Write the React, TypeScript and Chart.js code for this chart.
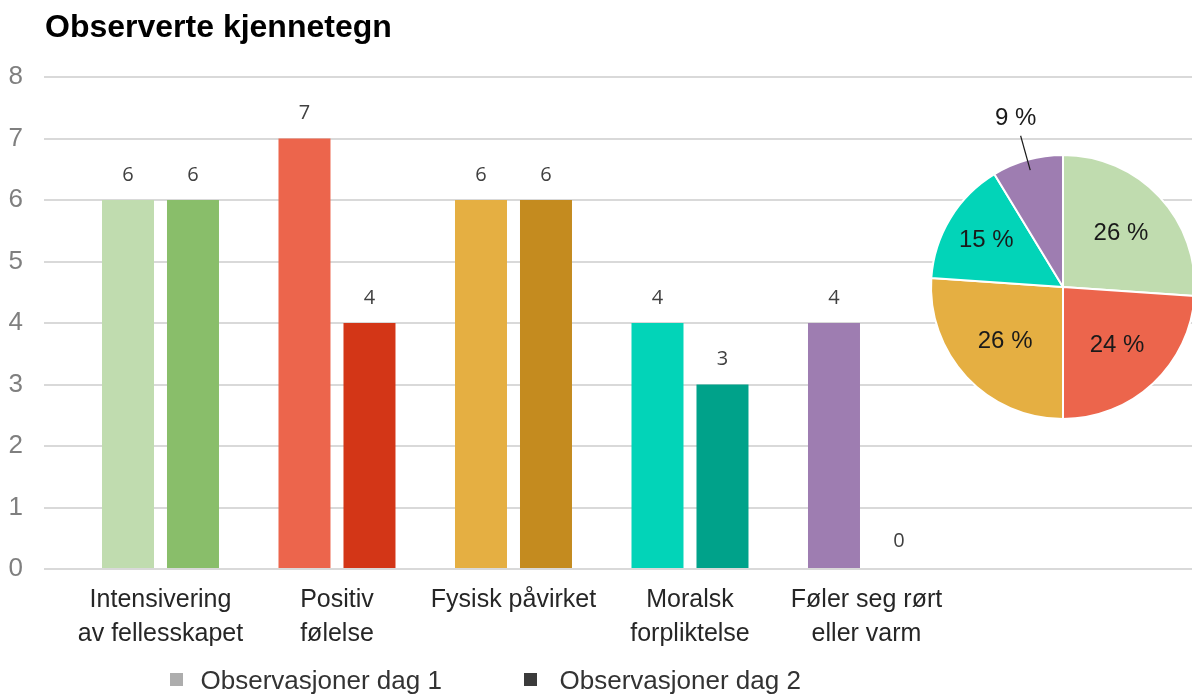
import React, { useEffect, useRef } from "react";
import { Chart, registerables } from "chart.js";

Chart.register(...registerables);

const titleText = "Observerte kjennetegn";
const categories: string[][] = [
  ["Intensivering", "av fellesskapet"],
  ["Positiv", "følelse"],
  ["Fysisk påvirket"],
  ["Moralsk", "forpliktelse"],
  ["Føler seg rørt", "eller varm"],
];
const seriesNames = ["Observasjoner dag 1", "Observasjoner dag 2"];
const day1 = [6, 7, 6, 4, 4];
const day2 = [6, 4, 6, 3, 0];
const day1Colors = ["#C0DCAF", "#EC654C", "#E5AF42", "#02D4B8", "#9E7DB1"];
const day2Colors = ["#89BE6A", "#D33617", "#C48B1F", "#00A28A", "#9E7DB1"];
const legendColors = ["#ADADAD", "#3B3B3B"];
const pieValues = [12, 11, 12, 7, 4];
const pieColors = ["#C0DCAF", "#EC654C", "#E5AF42", "#02D4B8", "#9E7DB1"];
const yMin = 0;
const yMax = 8;

const FAMILY = "'Liberation Sans', Arial, Helvetica, sans-serif";

export default function App() {
  const barRef = useRef<HTMLCanvasElement | null>(null);
  const pieRef = useRef<HTMLCanvasElement | null>(null);

  useEffect(() => {
    if (!barRef.current || !pieRef.current) return;

    const xMin = -0.66;
    const xMax = xMin + 1148 / 176.5;

    const overlay = {
      id: "overlay",
      afterDatasetsDraw(chart: any) {
        const ctx = chart.ctx;
        ctx.save();
        ctx.font = "20px 'Open Sans', sans-serif";
        ctx.fillStyle = "#404040";
        ctx.textAlign = "center";
        ctx.textBaseline = "middle";
        chart.data.datasets.forEach((ds: any, di: number) => {
          const meta = chart.getDatasetMeta(di);
          meta.data.forEach((el: any, j: number) => {
            const v = ds.data[j].y;
            const off = v === 0 ? 28 : 25;
            ctx.fillText(String(v), el.x, el.y - off);
          });
        });
        ctx.restore();
      },
      afterDraw(chart: any) {
        const ctx = chart.ctx;
        ctx.save();
        ctx.font = `bold 32px ${FAMILY}`;
        ctx.fillStyle = "#000000";
        ctx.textAlign = "left";
        ctx.textBaseline = "alphabetic";
        ctx.fillText(titleText, 45, 37);
        const boxX = [170, 524];
        const textX = [200.5, 559.5];
        ctx.font = `26px ${FAMILY}`;
        seriesNames.forEach((name, i) => {
          ctx.fillStyle = legendColors[i];
          ctx.fillRect(boxX[i], 673, 13, 13);
          ctx.fillStyle = "#333333";
          ctx.fillText(name, textX[i], 689);
        });
        ctx.restore();
      },
    };

    const bar = new Chart(barRef.current, {
      type: "bar",
      data: {
        datasets: seriesNames.map((name, s) => ({
          label: name,
          data: (s === 0 ? day1 : day2).map((v, i) => ({ x: i, y: v })),
          backgroundColor: s === 0 ? day1Colors : day2Colors,
          borderWidth: 0,
          categoryPercentage: 0.7365,
          barPercentage: 0.8,
        })),
      },
      options: {
        animation: false,
        responsive: false,
        maintainAspectRatio: false,
        layout: { padding: { top: 77, left: 0, right: 0, bottom: 0 } },
        plugins: {
          legend: { display: false },
          tooltip: { enabled: false },
          title: { display: false },
        },
        scales: {
          x: {
            type: "linear",
            min: xMin,
            max: xMax,
            offset: false,
            afterBuildTicks: (s: any) => {
              s.ticks = categories.map((_, i) => ({ value: i }));
            },
            afterFit: (s: any) => {
              s.height = 128;
            },
            ticks: {
              autoSkip: false,
              maxRotation: 0,
              minRotation: 0,
              padding: 14,
              color: "#262626",
              font: { family: FAMILY, size: 25, lineHeight: 1.35 },
              callback: (v: any) => categories[Math.round(Number(v))] ?? "",
            },
            grid: { display: false, drawTicks: false },
            border: { display: false },
          },
          y: {
            min: yMin,
            max: yMax,
            afterFit: (s: any) => {
              s.width = 44;
            },
            ticks: {
              stepSize: 1,
              padding: 21,
              color: "#7F7F7F",
              font: { family: FAMILY, size: 26 },
            },
            grid: { color: "#D9D9D9", lineWidth: 2, drawTicks: false },
            border: { display: false },
          },
        },
      },
      plugins: [overlay],
    } as any);

    const total = pieValues.reduce((a, b) => a + b, 0);
    const pieLabels = {
      id: "pieLabels",
      afterDatasetsDraw(chart: any) {
        const ctx = chart.ctx;
        const meta = chart.getDatasetMeta(0);
        ctx.save();
        ctx.font = `24px ${FAMILY}`;
        ctx.fillStyle = "#1A1A1A";
        ctx.textAlign = "center";
        ctx.textBaseline = "middle";
        meta.data.forEach((el: any, i: number) => {
          const { x, y, startAngle, endAngle, outerRadius } = el.getProps(
            ["x", "y", "startAngle", "endAngle", "outerRadius"],
            true
          );
          const mid = (startAngle + endAngle) / 2;
          const pct = Math.round((pieValues[i] / total) * 100);
          const label = `${pct} %`;
          const c = Math.cos(mid);
          const sn = Math.sin(mid);
          if (pct < 10) {
            ctx.strokeStyle = "#1A1A1A";
            ctx.lineWidth = 1.2;
            ctx.beginPath();
            ctx.moveTo(x + c * outerRadius * 0.92, y + sn * outerRadius * 0.92);
            ctx.lineTo(x + c * outerRadius * 1.19, y + sn * outerRadius * 1.19);
            ctx.stroke();
            ctx.fillText(label, x + c * outerRadius * 1.33, y + sn * outerRadius * 1.33);
          } else {
            const d = outerRadius * (pct < 20 ? 0.68 : 0.6);
            ctx.fillText(label, x + c * d, y + sn * d);
          }
        });
        ctx.restore();
      },
    };

    const pie = new Chart(pieRef.current, {
      type: "pie",
      data: {
        labels: categories.map((c) => c.join(" ")),
        datasets: [
          {
            data: pieValues,
            backgroundColor: pieColors,
            borderColor: "#FFFFFF",
            borderWidth: 2,
          },
        ],
      },
      options: {
        animation: false,
        responsive: false,
        maintainAspectRatio: false,
        layout: { padding: { left: 30, right: 34, top: 64, bottom: 10 } },
        plugins: {
          legend: { display: false },
          tooltip: { enabled: false },
        },
      },
      plugins: [pieLabels],
    } as any);

    return () => {
      bar.destroy();
      pie.destroy();
    };
  }, []);

  return (
    <div
      style={{
        position: "fixed",
        left: 0,
        top: 0,
        width: 1192,
        height: 697,
        overflow: "hidden",
        background: "#FFFFFF",
      }}
    >
      <canvas
        ref={barRef}
        width={1192}
        height={697}
        style={{ position: "absolute", left: 0, top: 0, width: 1192, height: 697 }}
      />
      <canvas
        ref={pieRef}
        width={330}
        height={340}
        style={{ position: "absolute", left: 900, top: 90, width: 330, height: 340 }}
      />
    </div>
  );
}
